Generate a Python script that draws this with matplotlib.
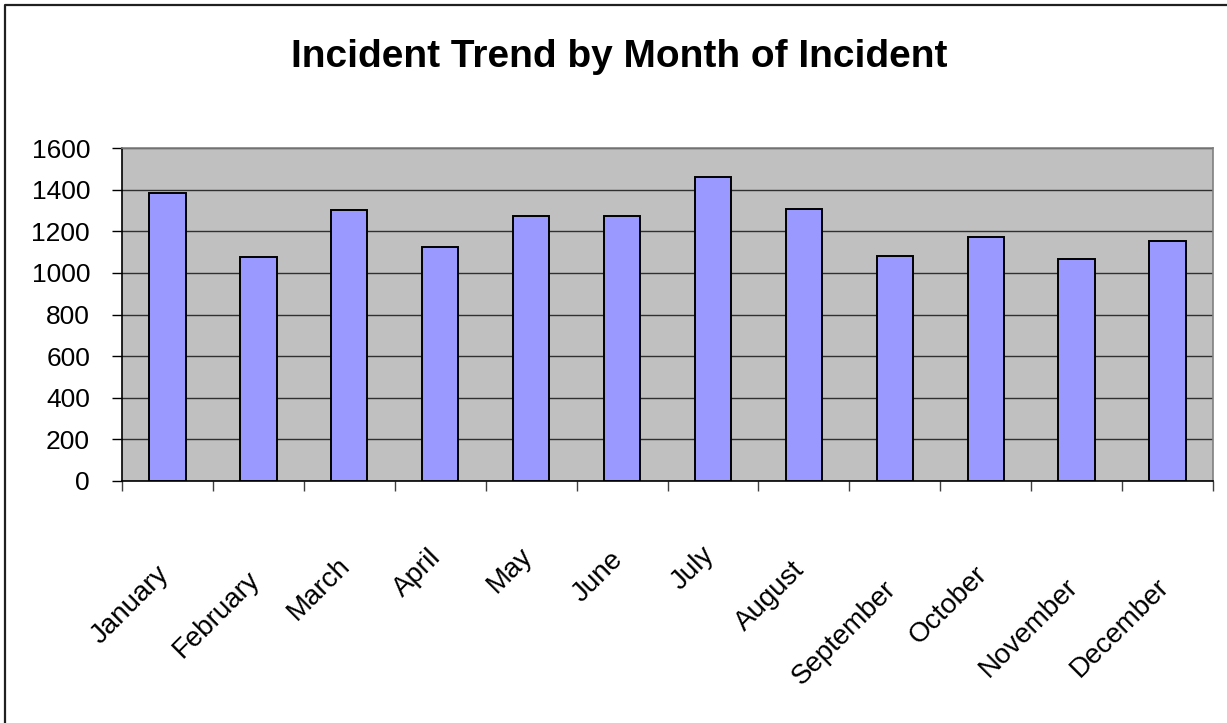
import numpy as np
import matplotlib.pyplot as plt
import matplotlib.transforms as mtransforms
from matplotlib.lines import Line2D

months = ["January", "February", "March", "April", "May", "June",
          "July", "August", "September", "October", "November", "December"]
incidents = [1382, 1074, 1301, 1126, 1272, 1272, 1462, 1309, 1081, 1173, 1066, 1155]
y_ticks = [0, 200, 400, 600, 800, 1000, 1200, 1400, 1600]
title = "Incident Trend by Month of Incident"

plt.rcParams['font.family'] = ['Liberation Sans', 'DejaVu Sans']

W, H = 1227, 723
fig = plt.figure(figsize=(W / 100, H / 100), dpi=100)

# chart border: only top and left edges show in the picture
fig.lines.append(Line2D([4.5 / W, 4.5 / W, 1.0], [0.0, 1 - 5 / H, 1 - 5 / H],
                        transform=fig.transFigure, color='#202020', linewidth=1.6))

ax = fig.add_axes([122 / W, 1 - 481 / H, (1213 - 122) / W, (481 - 148) / H])
ax.set_facecolor('#C0C0C0')

x = np.arange(len(months))
ax.bar(x, incidents, width=0.4, color='#9999FF', edgecolor='black', linewidth=1.4, zorder=3)

ax.set_xlim(-0.5, len(months) - 0.5)
ax.set_ylim(0, 1600)
ax.set_yticks(y_ticks)
ax.set_yticklabels([str(v) for v in y_ticks])
ax.yaxis.grid(True, color='#303030', linewidth=1, zorder=1)
ax.set_axisbelow(True)
ax.tick_params(axis='y', direction='out', length=7, width=1, pad=16, labelsize=19)

ax.set_xticks(np.arange(-0.5, len(months), 1))
ax.set_xticklabels([])
ax.tick_params(axis='x', direction='out', length=7, width=1, color='#404040')

for side in ['top', 'right']:
    ax.spines[side].set_color('#808080')
    ax.spines[side].set_linewidth(1.2)
for side in ['left', 'bottom']:
    ax.spines[side].set_color('black')
    ax.spines[side].set_linewidth(1.2)

fig.text(619 / W, 1 - 57 / H, title, ha='center', va='center',
         fontsize=28, fontweight='bold')

# rotated month labels, Excel-style placement
renderer = fig.canvas.get_renderer()
shift = mtransforms.ScaledTranslation(-12 / 100, 0, fig.dpi_scale_trans)
trans = mtransforms.blended_transform_factory(ax.transData, fig.transFigure) + shift
for i, m in enumerate(months):
    t = ax.text(i, 0, m, fontsize=20, transform=trans)
    L = t.get_window_extent(renderer).width
    t.set_rotation(45)
    t.set_rotation_mode('anchor')
    t.set_ha('right')
    t.set_va('top')
    t.set_y(1 - (522 + 0.4 * L) / H)

fig.savefig('out.png', dpi=100, facecolor='white')
